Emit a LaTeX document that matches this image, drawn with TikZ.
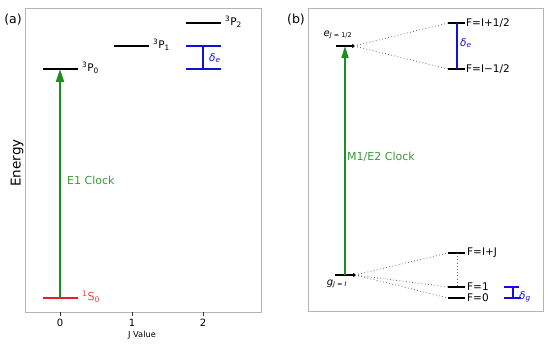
\documentclass[tikz,border=0pt]{standalone}
\usepackage{fontspec}
\setmainfont{DejaVu Sans}
\usetikzlibrary{arrows.meta}
\definecolor{arrgreen}{HTML}{1E8C1E}
\definecolor{txtgreen}{HTML}{3A9A3A}
\definecolor{lvred}{HTML}{E82020}
\definecolor{txtred}{HTML}{EE4444}
\definecolor{lvblue}{HTML}{1010D8}
\definecolor{framegray}{HTML}{B4B4B4}
\begin{document}
\begin{tikzpicture}[x=1pt,y=-1pt,
  frame/.style={draw=framegray,line width=1pt},
  tickmark/.style={draw=black!80,line width=0.8pt},
  level/.style={line width=1.8pt},
  bluebar/.style={draw=lvblue,line width=1.6pt},
  clock/.style={draw=arrgreen,line width=2.2pt,-{Triangle[length=13pt,width=8pt]}},
  clockb/.style={draw=arrgreen,line width=1.8pt,-{Triangle[length=12pt,width=7pt]}},
  dots/.style={draw=black!60,line width=0.8pt,dash pattern=on 0.8pt off 2.4pt},
  lbl/.style={inner sep=0pt,anchor=west,font=\fontsize{10.5}{12}\selectfont},
  ticklbl/.style={inner sep=0pt,font=\fontsize{10}{12}\selectfont}]
\useasboundingbox (0,0) rectangle (550,345);
% ---------- panel (a) ----------
\node[inner sep=0pt,font=\fontsize{12.5}{14}\selectfont] (pa) at (13,20) {(a)};
\draw[frame] (25,9) rectangle (261,312);
\coordinate (t0) at (60,312); \coordinate (t0b) at (60,316);
\coordinate (t1) at (132,312); \coordinate (t1b) at (132,316);
\coordinate (t2) at (203,312); \coordinate (t2b) at (203,316);
\draw[tickmark] (t0) -- (t0b); \draw[tickmark] (t1) -- (t1b); \draw[tickmark] (t2) -- (t2b);
\node[ticklbl] (x0) at (60,323) {0};
\node[ticklbl] (x1) at (132,323) {1};
\node[ticklbl] (x2) at (203,323) {2};
\node[inner sep=0pt,font=\fontsize{8.3}{9}\selectfont] (xl) at (142,335) {J Value};
\node[inner sep=0pt,rotate=90,font=\fontsize{13.5}{15}\selectfont] (yl) at (17,163) {Energy};
% levels
\coordinate (p0L) at (43,69); \coordinate (p0R) at (78,69); \coordinate (p0M) at (60,69);
\coordinate (p1L) at (114,46); \coordinate (p1R) at (149,46);
\coordinate (p2L) at (186,23); \coordinate (p2R) at (221,23);
\coordinate (s0L) at (43,298); \coordinate (s0R) at (78,298); \coordinate (s0M) at (60,298);
\draw[level] (p0L) -- (p0R);
\draw[level] (p1L) -- (p1R);
\draw[level] (p2L) -- (p2R);
\draw[level,draw=lvred] (s0L) -- (s0R);
\node[lbl] (lp0) at (82,68) {\textsuperscript{3}P\textsubscript{0}};
\node[lbl] (lp1) at (153,45) {\textsuperscript{3}P\textsubscript{1}};
\node[lbl] (lp2) at (225,22) {\textsuperscript{3}P\textsubscript{2}};
\node[lbl,text=txtred,font=\fontsize{11}{12}\selectfont] (ls0) at (82,297) {\textsuperscript{1}S\textsubscript{0}};
\draw[clock] (s0M) -- (p0M);
\node[lbl,text=txtgreen,font=\fontsize{11}{12}\selectfont] (e1) at (67,180) {E1 Clock};
% blue delta_e (a)
\coordinate (baT) at (186,46); \coordinate (baTR) at (221,46);
\coordinate (baB) at (186,69); \coordinate (baBR) at (221,69);
\coordinate (baV1) at (203,46); \coordinate (baV2) at (203,69);
\draw[bluebar] (baT) -- (baTR);
\draw[bluebar] (baB) -- (baBR);
\draw[bluebar] (baV1) -- (baV2);
\node[lbl,text=lvblue] (dea) at (209,58) {\textit{δ}\textsubscript{\textit{e}}};
% ---------- panel (b) ----------
\node[inner sep=0pt,font=\fontsize{12.5}{14}\selectfont] (pb) at (296,20) {(b)};
\draw[frame] (308,9) rectangle (543,311);
% e level
\coordinate (eL) at (336,46); \coordinate (eR) at (354,46); \coordinate (eM) at (345,46);
\draw[level,line width=1.5pt,-{To[length=2pt,width=4pt]}] (eL) -- (eR);
\node[inner sep=0pt] (el) at (338,35) {\textit{e}\textsubscript{\fontsize{6.5}{7}\selectfont \textit{J} = 1/2}};
% upper hyperfine
\coordinate (uaL) at (448,23); \coordinate (uaR) at (465,23); \coordinate (uaM) at (457,23);
\coordinate (ubL) at (448,69); \coordinate (ubR) at (465,69); \coordinate (ubM) at (457,69);
\draw[level,line width=1.5pt] (uaL) -- (uaR);
\draw[level,line width=1.5pt] (ubL) -- (ubR);
\node[lbl] (lua) at (466,23) {F=I+1/2};
\node[lbl] (lub) at (466,69) {F=I−1/2};
\draw[bluebar] (uaM) -- (ubM);
\node[lbl,text=lvblue] (deb) at (460,43) {\textit{δ}\textsubscript{\textit{e}}};
\draw[dots] (eR) -- (uaL);
\draw[dots] (eR) -- (ubL);
% g level
\coordinate (gL) at (335,275); \coordinate (gR) at (355,275); \coordinate (gM) at (345,275);
\draw[level,line width=1.5pt,-{To[length=2pt,width=4pt]}] (gL) -- (gR);
\node[inner sep=0pt] (gl) at (337,284) {\textit{g}\textsubscript{\fontsize{6.5}{7}\selectfont \textit{J} = \textit{I}}};
\draw[clockb] (gM) -- (eM);
\node[lbl,text=txtgreen,font=\fontsize{11}{12}\selectfont] (m1) at (347,157) {M1/E2 Clock};
% lower hyperfine
\coordinate (faL) at (448,253); \coordinate (faR) at (465,253); \coordinate (faM) at (457,253);
\coordinate (fbL) at (448,287); \coordinate (fbR) at (465,287); \coordinate (fbM) at (457,287);
\coordinate (fcL) at (448,298); \coordinate (fcR) at (465,298);
\draw[level,line width=1.5pt] (faL) -- (faR);
\draw[level,line width=1.5pt] (fbL) -- (fbR);
\draw[level,line width=1.5pt] (fcL) -- (fcR);
\node[lbl] (lfa) at (467,253) {F=I+J};
\node[lbl] (lfb) at (467,287) {F=1};
\node[lbl] (lfc) at (467,298) {F=0};
\draw[dots] (faM) -- (fbM);
\draw[dots] (gR) -- (faL);
\draw[dots] (gR) -- (fbL);
\draw[dots] (gR) -- (fcL);
% blue delta_g
\coordinate (bgT) at (504,287); \coordinate (bgTR) at (519,287);
\coordinate (bgB) at (504,298); \coordinate (bgBR) at (521,298);
\coordinate (bgV1) at (513,287); \coordinate (bgV2) at (513,298);
\draw[bluebar,line width=1.3pt] (bgT) -- (bgTR);
\draw[bluebar,line width=1.3pt] (bgB) -- (bgBR);
\draw[bluebar,line width=1.3pt] (bgV1) -- (bgV2);
\node[lbl,text=lvblue] (dg) at (519,297) {\textit{δ}\textsubscript{\textit{g}}};
\end{tikzpicture}
\end{document}
